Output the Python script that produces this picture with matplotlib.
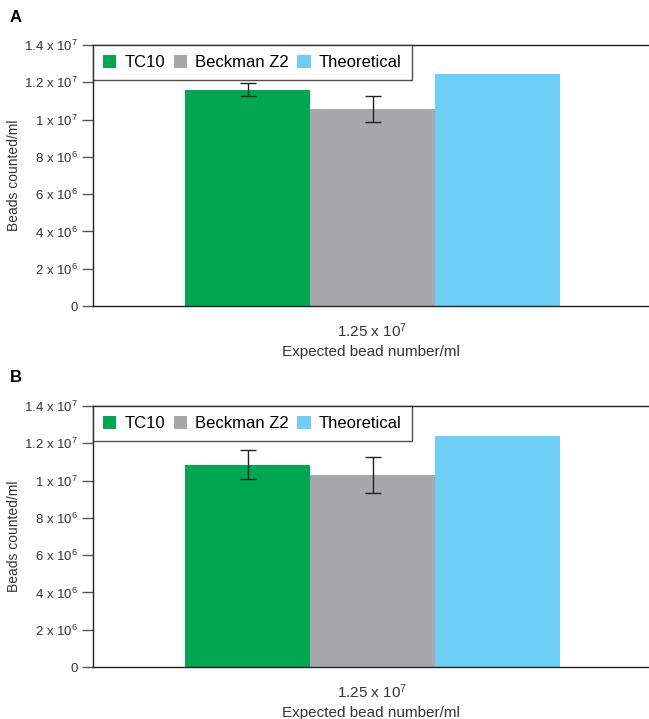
import matplotlib
matplotlib.use('Agg')
import matplotlib.pyplot as plt
from matplotlib.patches import Patch

plt.rcParams['font.family'] = ['Liberation Sans', 'DejaVu Sans']
plt.rcParams['mathtext.fontset'] = 'custom'
plt.rcParams['mathtext.rm'] = 'Liberation Sans'
plt.rcParams['mathtext.it'] = 'Liberation Sans'

series = ['TC10', 'Beckman Z2', 'Theoretical']
colors = ['#00A651', '#A7A6AB', '#6DCFF6']

# panel A
vals_a = [1.16e7, 1.055e7, 1.245e7]
err_a = [0.035e7, 0.07e7, None]
# panel B
vals_b = [1.085e7, 1.03e7, 1.24e7]
err_b = [0.078e7, 0.098e7, None]

yticks = [0, 2e6, 4e6, 6e6, 8e6, 1e7, 1.2e7, 1.4e7]
ytick_labels = ['0', r'2 x 10$^6$', r'4 x 10$^6$', r'6 x 10$^6$', r'8 x 10$^6$',
                r'1 x 10$^7$', r'1.2 x 10$^7$', r'1.4 x 10$^7$']
xtick_label = r'1.25 x 10$^7$'

fig = plt.figure(figsize=(6.49, 7.19), dpi=100)
ax_a = fig.add_axes([0.1433, 0.5744, 0.8567, 0.363])
ax_b = fig.add_axes([0.1433, 0.0723, 0.8567, 0.363])


def draw(ax, vals, errs):
    pos = [-1, 0, 1]
    for p, v, e, c in zip(pos, vals, errs, colors):
        ax.bar(p, v, width=1.0, color=c, zorder=2)
        if e is not None:
            ax.errorbar(p, v, yerr=e, fmt='none', ecolor='#222222',
                        elinewidth=1, capsize=6, capthick=1, zorder=3)
    ax.set_xlim(-2.236, 2.212)
    ax.set_ylim(0, 1.4e7)
    ax.set_yticks(yticks)
    ax.set_yticklabels(ytick_labels, fontsize=9.5, color='#333333')
    ax.set_xticks([0])
    ax.set_xticklabels([xtick_label], fontsize=11, color='#333333')
    ax.tick_params(axis='x', length=0, pad=11)
    ax.tick_params(axis='y', length=8, width=1, color='#555555', pad=3)
    ax.set_xlabel('Expected bead number/ml', fontsize=11, color='#333333', labelpad=4)
    ax.spines['right'].set_visible(False)
    for s in ['left', 'top', 'bottom']:
        ax.spines[s].set_color('#222222')
        ax.spines[s].set_linewidth(1)
    handles = [Patch(facecolor=c, edgecolor='none') for c in colors]
    leg = ax.legend(handles, series, loc='upper left', bbox_to_anchor=(0, 1),
                    ncol=3, fontsize=12, frameon=True, fancybox=False,
                    borderaxespad=0, handlelength=0.8, handleheight=0.8,
                    handletextpad=0.5, columnspacing=0.5, borderpad=0.6)
    leg.get_frame().set_edgecolor('#222222')
    leg.get_frame().set_linewidth(1)
    leg.set_zorder(5)


draw(ax_a, vals_a, err_a)
draw(ax_b, vals_b, err_b)

fig.text(14 / 649, 1 - 175 / 719, 'Beads counted/ml', rotation=90, fontsize=10,
         color='#333333', ha='center', va='center')
fig.text(14 / 649, 1 - 536 / 719, 'Beads counted/ml', rotation=90, fontsize=10,
         color='#333333', ha='center', va='center')
fig.text(10 / 649, 1 - 18 / 719, 'A', fontsize=12, fontweight='bold', va='center')
fig.text(10 / 649, 1 - 378 / 719, 'B', fontsize=12, fontweight='bold', va='center')

fig.savefig('out.png', dpi=100)
